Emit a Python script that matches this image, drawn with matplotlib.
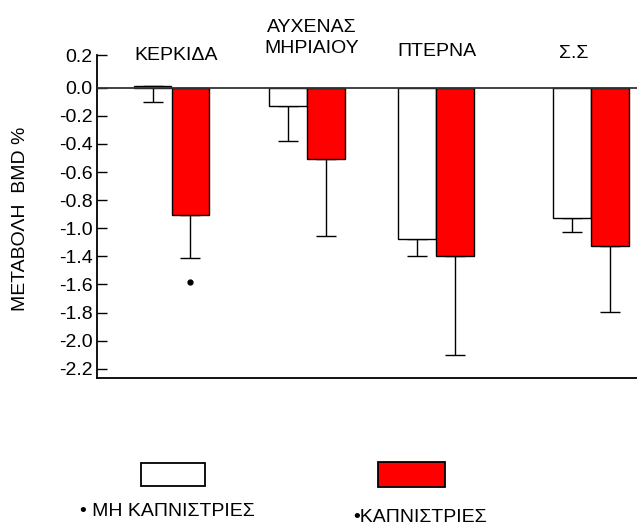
import matplotlib.pyplot as plt
from matplotlib.patches import Rectangle

plt.rcParams['font.family'] = ['Liberation Sans', 'DejaVu Sans']
plt.rcParams['font.size'] = 14

# data (axis units; the tick labels of the original skip -1.2)
groups = ['ΚΕΡΚΙΔΑ', 'ΑΥΧΕΝΑΣ\nΜΗΡΙΑΙΟΥ', 'ΠΤΕΡΝΑ', 'Σ.Σ']
group_x = [171.5, 307, 436, 591]
non_smokers = [0.01, -0.13, -1.08, -0.925]
non_smokers_err = [-0.10, -0.377, -1.198, -1.025]
smokers = [-0.906, -0.505, -1.198, -1.125]
smokers_err = [-1.21, -1.053, -1.902, -1.599]
signif_x = [190]
signif_y = [-1.38]

tick_pos = [0.233, 0.0, -0.2, -0.4, -0.6, -0.8, -1.0, -1.2, -1.4, -1.6, -1.8, -2.0]
tick_labels = ['0.2', '0.0', '-0.2', '-0.4', '-0.6', '-0.8', '-1.0', '-1.4',
               '-1.6', '-1.8', '-2.0', '-2.2']

W, H = 637, 528
fig = plt.figure(figsize=(W / 100, H / 100), dpi=100)
ax = fig.add_axes([96.7 / W, 1 - 378 / H, (W - 96.7) / W, (378 - 55) / H])

bw = 37.5
off = 18.8
xw = [x - off for x in group_x]
xr = [x + off for x in group_x]

ax.bar(xw, non_smokers, width=bw, color='white', edgecolor='black', linewidth=1.0, zorder=3)
ax.bar(xr, smokers, width=bw, color='#ff0000', edgecolor='black', linewidth=1.0, zorder=3)

low_w = [v - e for v, e in zip(non_smokers, non_smokers_err)]
low_r = [v - e for v, e in zip(smokers, smokers_err)]
ax.errorbar(xw, non_smokers, yerr=[low_w, [0] * 4], fmt='none', ecolor='black',
            elinewidth=1.0, capsize=7, capthick=1.0, zorder=2)
ax.errorbar(xr, smokers, yerr=[low_r, [0] * 4], fmt='none', ecolor='black',
            elinewidth=1.0, capsize=7, capthick=1.0, zorder=2)
ax.plot(signif_x, signif_y, 'o', color='black', markersize=3.5)

ax.axhline(0, color='#333333', linewidth=1.3, zorder=4)

ax.set_xlim(96.7, W)
ax.set_ylim(-2.066, 0.233)
ax.set_yticks(tick_pos)
ax.set_yticklabels(tick_labels)
ax.set_xticks([])
ax.tick_params(axis='y', direction='in', length=7, width=1.0, pad=3)
for s in ['top', 'right']:
    ax.spines[s].set_visible(False)
ax.spines['left'].set_linewidth(1.3)
ax.spines['bottom'].set_linewidth(1.3)

# overlay in pixel coordinates for labels and legend
ov = fig.add_axes([0, 0, 1, 1])
ov.set_xlim(0, W)
ov.set_ylim(H, 0)
ov.axis('off')
ov.patch.set_alpha(0)

ov.text(176.5, 55, groups[0], ha='center', va='center')
ov.text(312, 38, groups[1], ha='center', va='center', linespacing=1.25)
ov.text(436.5, 51, groups[2], ha='center', va='center')
ov.text(574, 53, groups[3], ha='center', va='center')

ov.text(21, 219, 'ΜΕΤΑΒΟΛΗ  BMD %', rotation=90, ha='center', va='center')

ov.add_patch(Rectangle((140.7, 463), 64.3, 23, facecolor='white', edgecolor='black', linewidth=1.3))
ov.add_patch(Rectangle((378, 462), 67, 25, facecolor='#ff0000', edgecolor='black', linewidth=1.3))
ov.text(80, 512, '• ΜΗ ΚΑΠΝΙΣΤΡΙΕΣ', ha='left', va='center')
ov.text(353, 517, '•ΚΑΠΝΙΣΤΡΙΕΣ', ha='left', va='center')

fig.savefig('out.png', dpi=100)
